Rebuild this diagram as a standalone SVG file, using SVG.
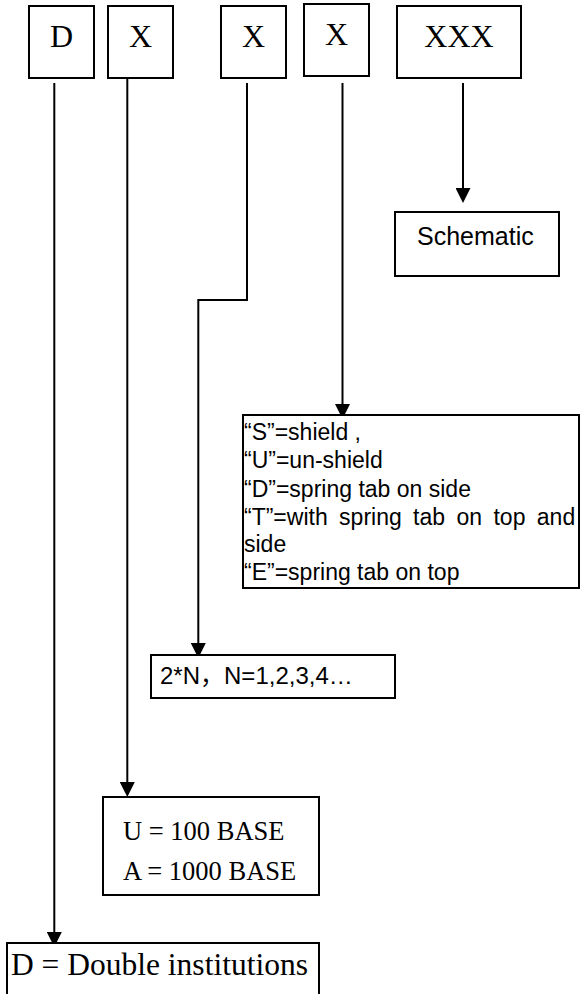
<svg xmlns="http://www.w3.org/2000/svg" width="581" height="994" viewBox="0 0 581 994">
<style>
.box{fill:#fff;stroke:#000;stroke-width:2}
.conn{fill:none;stroke:#000;stroke-width:2}
.serif{font-family:"Liberation Serif","Times New Roman",serif;fill:#000}
.sans{font-family:"Liberation Sans",Arial,sans-serif;fill:#000}
.big{font-size:32px}
</style>
<defs>
<marker id="arr" markerUnits="userSpaceOnUse" markerWidth="15" markerHeight="15" viewBox="0 0 15 15" refX="12" refY="7.5" orient="auto">
<path d="M0,0 L15,7.5 L0,15 Z" fill="#000"/>
</marker>
<clipPath id="shieldClip"><rect x="243" y="415" width="338" height="173"/></clipPath>
</defs>
<rect width="581" height="994" fill="#fff"/>

<g id="node-D"><rect class="box" x="29" y="6" width="65" height="72"/><text class="serif big" x="61.5" y="47" text-anchor="middle">D</text></g>
<g id="node-X1"><rect class="box" x="108" y="6" width="65" height="72"/><text class="serif big" x="140.5" y="47" text-anchor="middle">X</text></g>
<g id="node-X2"><rect class="box" x="221" y="6" width="65" height="72"/><text class="serif big" x="253.5" y="47" text-anchor="middle">X</text></g>
<g id="node-X3"><rect class="box" x="304" y="4" width="65" height="72"/><text class="serif big" x="336.5" y="45" text-anchor="middle">X</text></g>
<g id="node-XXX"><rect class="box" x="397" y="6" width="124" height="72"/><text class="serif big" x="459" y="47" text-anchor="middle">XXX</text></g>

<g id="connectors">
<path class="conn" d="M54.3,83 V944" marker-end="url(#arr)"/>
<path class="conn" d="M127.3,78 V794" marker-end="url(#arr)"/>
<path class="conn" d="M247,83 V300 H198.3 V655" marker-end="url(#arr)"/>
<path class="conn" d="M342.5,83 V416" marker-end="url(#arr)"/>
<path class="conn" d="M463,83 V200" marker-end="url(#arr)"/>
</g>

<g id="node-schematic"><rect class="box" x="395" y="212" width="164" height="64"/><text class="sans" x="417" y="245" font-size="25">Schematic</text></g>

<g id="node-shield"><rect class="box" x="243" y="415" width="336" height="173"/>
<g clip-path="url(#shieldClip)" class="sans" font-size="23">
<text x="244" y="440">“S”=shield ,</text>
<text x="244" y="468">“U”=un-shield</text>
<text x="244" y="497">“D”=spring tab on side</text>
<text x="244" y="525" word-spacing="5">“T”=with spring tab on top and</text>
<text x="244" y="552">side</text>
<text x="244" y="580">“E”=spring tab on top</text>
</g>
<line x1="243" y1="588" x2="579" y2="588" stroke="#000" stroke-width="2"/>
</g>

<g id="node-2N"><rect class="box" x="151" y="655" width="244" height="43"/><text class="sans" x="160" y="684" font-size="24">2*N<tspan font-family="'Noto Sans CJK SC',sans-serif">，</tspan>N=1,2,3,4…</text></g>

<g id="node-UA"><rect class="box" x="103" y="797" width="216" height="98"/>
<text class="serif" x="123" y="840" font-size="26.5">U = 100 BASE</text>
<text class="serif" x="123" y="880" font-size="26.5">A = 1000 BASE</text></g>

<g id="node-Double"><path class="box" d="M7,994 V943 H319 V994"/>
<text class="serif" x="11" y="975" font-size="31.5">D = Double institutions</text></g>
</svg>
